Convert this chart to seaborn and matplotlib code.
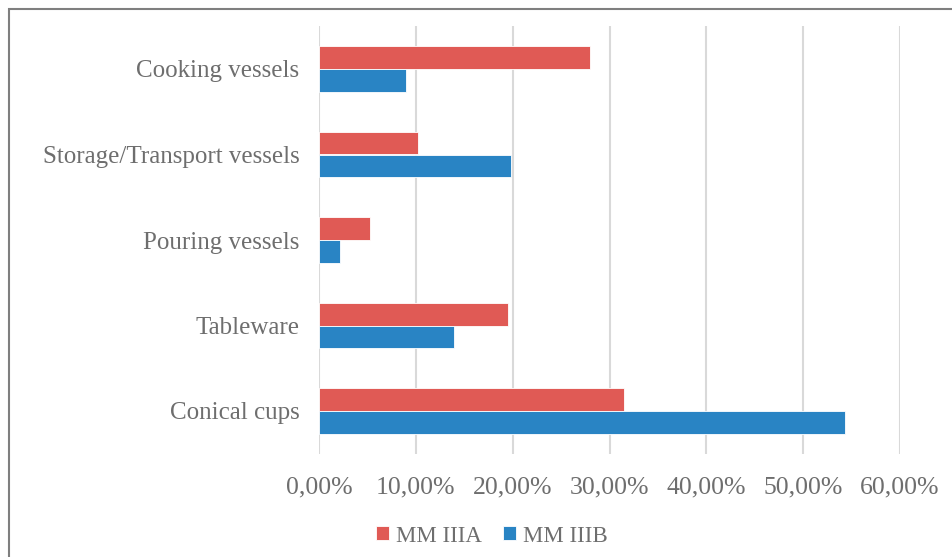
import matplotlib.pyplot as plt
from matplotlib.patches import Rectangle
from matplotlib.ticker import FuncFormatter
import seaborn as sns
import pandas as pd

categories = ['Cooking vessels', 'Storage/Transport vessels', 'Pouring vessels', 'Tableware', 'Conical cups']
mm_iiia = [28.0, 10.2, 5.3, 19.5, 31.5]
mm_iiib = [9.0, 19.8, 2.2, 13.9, 54.3]
series = ['MM IIIA', 'MM IIIB']
colors = ['#E05A55', '#2984C4']

df = pd.DataFrame({
    'Category': categories * 2,
    'Period': [series[0]] * len(categories) + [series[1]] * len(categories),
    'Value': [v / 100 for v in mm_iiia + mm_iiib],
})

sns.set_style('white')
plt.rcParams['font.family'] = ['Liberation Serif', 'DejaVu Serif']
text_color = '#6E6E6E'

fig = plt.figure(figsize=(9.53, 5.57), dpi=100)
ax = fig.add_axes([319 / 953, 1 - 453.75 / 557, (900 - 319) / 953, (453.75 - 26.25) / 557])

sns.barplot(data=df, y='Category', x='Value', hue='Period', order=categories,
            hue_order=series, palette=colors, saturation=1, orient='h', width=0.53,
            edgecolor='white', linewidth=0.6, ax=ax)

ax.set_xlim(0, 0.6)
ax.set_xticks([i / 10 for i in range(7)])
ax.xaxis.set_major_formatter(FuncFormatter(lambda v, p: ('%.2f%%' % (v * 100)).replace('.', ',')))
ax.grid(axis='x', color='#D9D9D9', linewidth=1.5)
ax.set_axisbelow(True)
for s in ax.spines.values():
    s.set_visible(False)
ax.set_xlabel('')
ax.set_ylabel('')
ax.tick_params(axis='x', length=0, pad=16, labelsize=18.5, labelcolor=text_color)
ax.tick_params(axis='y', length=0, pad=14, labelsize=18, labelcolor=text_color)

handles, labels = ax.get_legend_handles_labels()
ax.legend(handles, labels, loc='center', bbox_to_anchor=(492 / 953, 1 - 536 / 557),
          bbox_transform=fig.transFigure, ncol=2, frameon=False, fontsize=16.5,
          handlelength=0.57, handleheight=0.57, handletextpad=0.3, columnspacing=0.9,
          labelcolor=text_color)

fig.patches.append(Rectangle((9 / 953, -0.1), 1.2, 1.1 - 9 / 557, transform=fig.transFigure,
                             fill=False, edgecolor='#7F7F7F', linewidth=1.5))

fig.savefig('out.png', dpi=100)
